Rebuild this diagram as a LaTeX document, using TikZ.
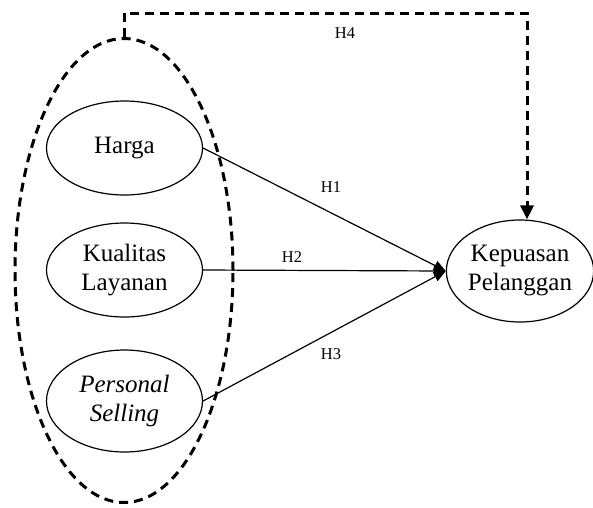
\documentclass[tikz,border=0pt]{standalone}
\usepackage{fontspec}
\setmainfont{Liberation Serif}
\usetikzlibrary{shapes.geometric,arrows.meta}
\begin{document}
\begin{tikzpicture}[x=1pt,y=-1pt,
  var/.style={draw,ellipse,line width=1.2pt,inner sep=0pt,minimum width=156pt,minimum height=94pt,align=center,font=\fontsize{25}{29}\selectfont},
  grp/.style={draw,ellipse,line width=3pt,dash pattern=on 9pt off 6pt,inner sep=0pt,minimum width=218pt,minimum height=464pt},
  rel/.style={line width=1.2pt,-{Triangle[length=12pt,width=10pt]}},
  hyp/.style={line width=3pt,dash pattern=on 9pt off 6pt,-{Triangle[length=14pt,width=13pt]}},
  lbl/.style={font=\fontsize{16.5}{19}\selectfont,inner sep=0pt}]
\useasboundingbox (0,0) rectangle (593,507);
\node[grp] (grp) at (124,270.5) {};
\node[var] (harga) at (124.5,148) {Harga};
\node[var] (kual) at (124.5,270) {Kualitas\\Layanan};
\node[var,minimum height=102pt] (pers) at (124.5,401) {\textit{Personal}\\\textit{Selling}};
\node[var,minimum width=145pt,minimum height=102pt] (kp) at (520,271) {Kepuasan\\Pelanggan};
\coordinate (top) at (0,13);
\draw[rel] (harga.east) -- (kp.west);
\draw[rel] (kual.east) -- (kp.west);
\draw[rel] (pers.east) -- (kp.west);
\draw[hyp] (grp.north) -- (grp.north |- top) -| ([xshift=7pt]kp.north);
\node[lbl] (h1) at (331,187) {H1};
\node[lbl] (h2) at (292,257) {H2};
\node[lbl] (h3) at (331,354) {H3};
\node[lbl] (h4) at (345,33) {H4};
\end{tikzpicture}
\end{document}
